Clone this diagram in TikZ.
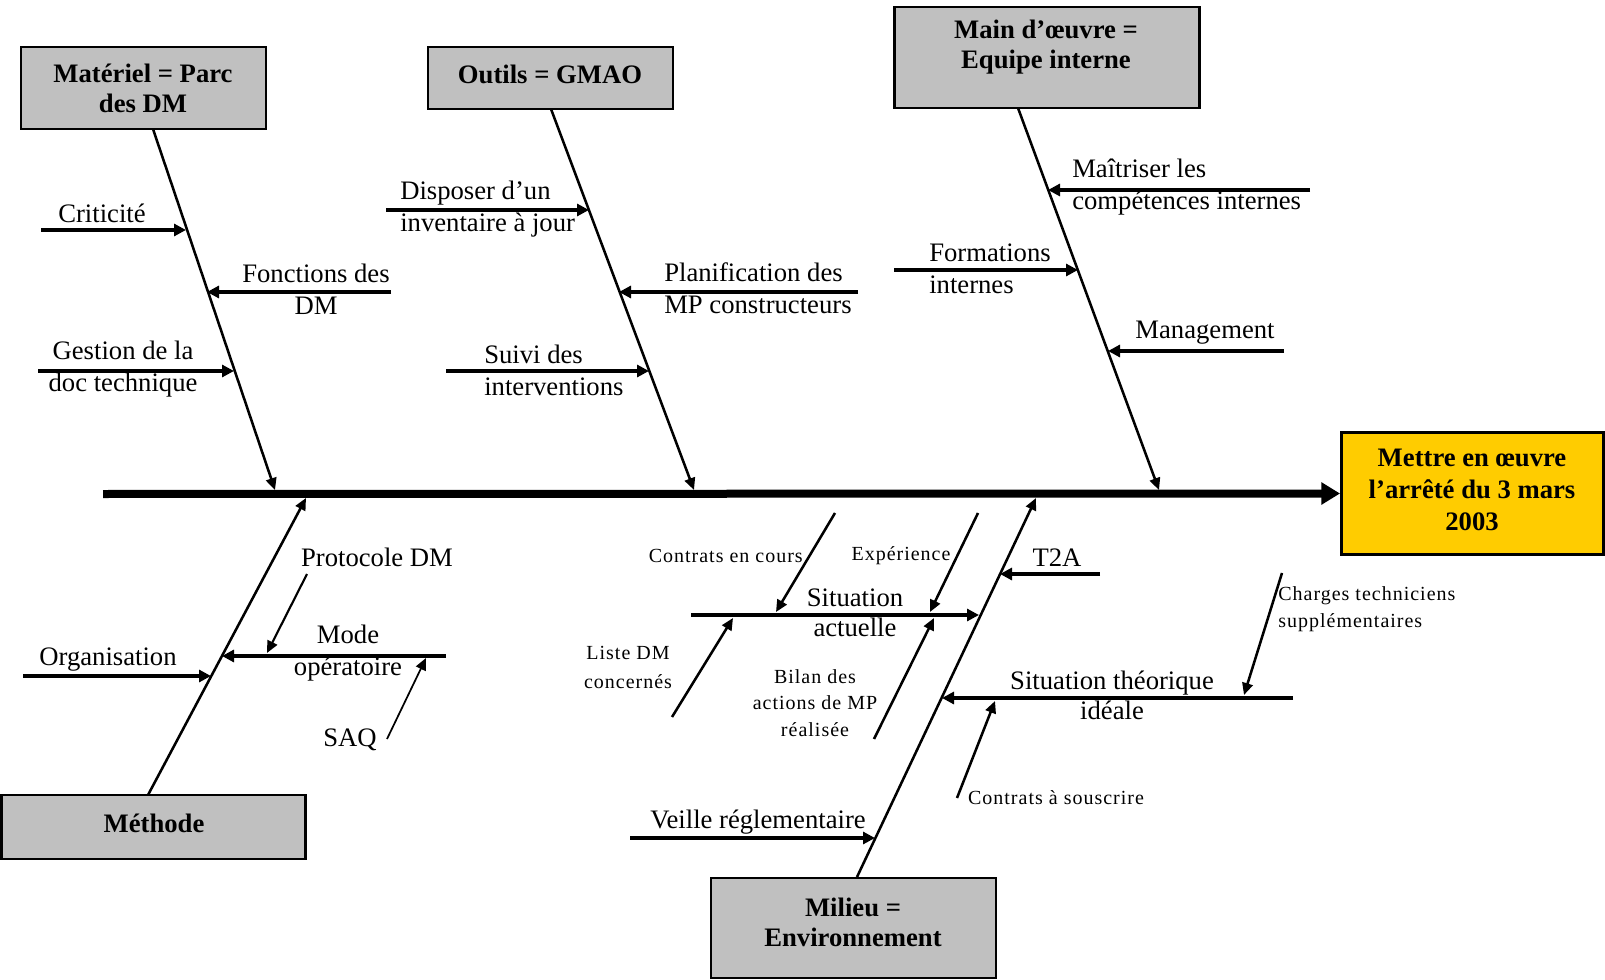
\documentclass[tikz,border=0pt]{standalone}
\usepackage{fontspec}
\setmainfont{Liberation Serif}
\newfontfamily\smallserif{Liberation Serif}[LetterSpace=5]
\usetikzlibrary{arrows.meta}
\definecolor{boxgray}{RGB}{192,192,192}
\definecolor{goal}{RGB}{255,204,0}

\begin{document}
\begin{tikzpicture}[x=0.75pt,y=-0.75pt,
  spine/.style={line width=6pt, -{Triangle[length=14pt,width=16pt]}},
  bone/.style={line width=1.9pt, -{Triangle[length=9pt,width=8pt]}},
  twig/.style={line width=3pt, -{Triangle[length=9pt,width=9pt]}},
  fine/.style={line width=1.9pt, -{Triangle[length=9pt,width=8pt]}},
  bar/.style={line width=2.6pt},
  catbox/.style={draw=black, line width=1.9pt, fill=boxgray, inner sep=0pt},
  goalbox/.style={draw=black, line width=2.2pt, fill=goal, inner sep=0pt},
  cattext/.style={font=\fontsize{20}{22.5}\selectfont\bfseries, align=center, inner sep=0pt},
  lbl/.style={font=\fontsize{20}{24}\selectfont, inner sep=0pt},
  sml/.style={font=\smallserif\fontsize{15}{20}\selectfont, inner sep=0pt},
]
\useasboundingbox (0,0) rectangle (1605,980);

% category boxes and the goal box
\node[catbox, minimum width=183.75pt, minimum height=61.5pt] (matBox) at (143.5,88) {};
\node[catbox, minimum width=183.75pt, minimum height=46.5pt] (outBox) at (550.5,78) {};
\node[catbox, minimum width=228.75pt, minimum height=75.75pt] (moBox) at (1047,57.5) {};
\node[catbox, minimum width=228pt, minimum height=48pt] (methBox) at (153.5,827) {};
\node[catbox, minimum width=213.75pt, minimum height=75pt] (milBox) at (853.5,928) {};
\node[goalbox, minimum width=196.5pt, minimum height=91.5pt] (effBox) at (1472.5,493.5) {};

\node[cattext] (matLbl) at (143,88) {Matériel = Parc\\des DM};
\node[cattext] (outLbl) at (550,74) {Outils = GMAO};
\node[cattext] (moLbl) at (1046,47.5) {Main d’œuvre =\\Equipe interne};
\node[cattext] (methLbl) at (154,823) {Méthode};
\node[cattext] (milLbl) at (853,922) {Milieu =\\Environnement};
\node[cattext, font=\fontsize{20}{24}\selectfont\bfseries] (effLbl) at (1472,490) {Mettre en œuvre\\l’arrêté du 3 mars\\2003};

% main spine
\coordinate (tail) at (103,494);
\draw[spine] (tail) -- (effBox.west);

% end points of the bones and branches
\coordinate (matFoot) at (153,129);   \coordinate (matHead) at (275,490);
\coordinate (critStart) at (41,230);  \coordinate (critEnd) at (186,230);
\coordinate (foncStart) at (391,292); \coordinate (foncEnd) at (207,292);
\coordinate (gestStart) at (38,371);  \coordinate (gestEnd) at (234,371);

\coordinate (outFoot) at (551,109);   \coordinate (outHead) at (694,490);
\coordinate (dispStart) at (386,210); \coordinate (dispEnd) at (589,210);
\coordinate (planStart) at (858,292); \coordinate (planEnd) at (619,292);
\coordinate (suivStart) at (446,371); \coordinate (suivEnd) at (649,371);

\coordinate (moFoot) at (1018,108);   \coordinate (moHead) at (1159,490);
\coordinate (maitStart) at (1310,190); \coordinate (maitEnd) at (1048,190);
\coordinate (formStart) at (894,270); \coordinate (formEnd) at (1078,270);
\coordinate (mgmtStart) at (1284,351); \coordinate (mgmtEnd) at (1108,351);

\coordinate (methFoot) at (148,795);  \coordinate (methHead) at (306,498);
\coordinate (orgStart) at (23,676);   \coordinate (orgEnd) at (211,676);
\coordinate (modeStart) at (446,656); \coordinate (modeEnd) at (222,656);
\coordinate (protStart) at (307,574); \coordinate (protEnd) at (267,653);
\coordinate (saqStart) at (387,739);  \coordinate (saqEnd) at (426,658);

\coordinate (milFoot) at (857,877);   \coordinate (milHead) at (1036,498);
\coordinate (veilStart) at (630,838); \coordinate (veilEnd) at (875,838);
\coordinate (actStart) at (691,615);  \coordinate (actEnd) at (979,615);
\coordinate (ccStart) at (835,513);   \coordinate (ccEnd) at (776,612);
\coordinate (expStart) at (978,513);  \coordinate (expEnd) at (930,612);
\coordinate (lstStart) at (672,717);  \coordinate (lstEnd) at (733,618);
\coordinate (bilStart) at (874,739);  \coordinate (bilEnd) at (934,618);
\coordinate (t2aStart) at (1100,574); \coordinate (t2aEnd) at (1000,574);
\coordinate (theoStart) at (1293,698); \coordinate (theoEnd) at (942,698);
\coordinate (chgStart) at (1282,573); \coordinate (chgEnd) at (1244,695);
\coordinate (souStart) at (957,798);  \coordinate (souEnd) at (995,701);

% Matériel
\draw[bone] (matFoot) -- (matHead);
\draw[twig] (critStart) -- (critEnd);
\draw[twig] (foncStart) -- (foncEnd);
\draw[twig] (gestStart) -- (gestEnd);

% Outils
\draw[bone] (outFoot) -- (outHead);
\draw[twig, line width=2.4pt] (dispStart) -- (dispEnd);
\draw[twig] (planStart) -- (planEnd);
\draw[twig] (suivStart) -- (suivEnd);

% Main d'oeuvre
\draw[bone] (moFoot) -- (moHead);
\draw[twig] (maitStart) -- (maitEnd);
\draw[twig] (formStart) -- (formEnd);
\draw[twig] (mgmtStart) -- (mgmtEnd);

% Méthode
\draw[bone] (methFoot) -- (methHead);
\draw[twig, line width=2.6pt] (orgStart) -- (orgEnd);
\draw[twig, line width=2.4pt] (modeStart) -- (modeEnd);
\draw[fine, line width=1.6pt] (protStart) -- (protEnd);
\draw[fine, line width=1.3pt] (saqStart) -- (saqEnd);

% Milieu
\draw[bone] (milFoot) -- (milHead);
\draw[twig, line width=2.4pt] (veilStart) -- (veilEnd);
\draw[twig] (actStart) -- (actEnd);
\draw[fine] (ccStart) -- (ccEnd);
\draw[fine] (expStart) -- (expEnd);
\draw[fine] (lstStart) -- (lstEnd);
\draw[fine] (bilStart) -- (bilEnd);
\draw[twig, line width=2.4pt] (t2aStart) -- (t2aEnd);
\draw[twig, line width=2.4pt] (theoStart) -- (theoEnd);
\draw[fine] (chgStart) -- (chgEnd);
\draw[fine] (souStart) -- (souEnd);

% labels
\node[lbl] (critLbl) at (102,213) {Criticité};
\node[lbl, align=center] (foncLbl) at (316,289) {Fonctions des\\DM};
\node[lbl, align=center] (gestLbl) at (123,369.5) {Gestion de la\\doc technique};
\node[lbl, align=left, anchor=west] (dispLbl) at (400,209) {Disposer d’un\\inventaire à jour};
\node[lbl, align=left, anchor=west] (planLbl) at (664,288) {Planification des\\MP constructeurs};
\node[lbl, align=left, anchor=west] (suivLbl) at (484,370) {Suivi des\\interventions};
\node[lbl, align=left, anchor=west] (maitLbl) at (1072,187.5) {Maîtriser les\\compétences internes};
\node[lbl, align=left, anchor=west] (formLbl) at (929,268.5) {Formations\\internes};
\node[lbl] (mgmtLbl) at (1205,333) {Management};
\node[lbl] (orgLbl) at (108,660) {Organisation};
\node[lbl] (protLbl) at (377,557) {Protocole DM};
\node[lbl, align=center] (modeLbl) at (348,653.5) {Mode\\opératoire};
\node[lbl] (saqLbl) at (350,740) {SAQ};
\node[sml, anchor=east] (ccLbl) at (803,556) {Contrats en cours};
\node[sml] (expLbl) at (901,556) {Expérience};
\node[lbl, align=center, font=\fontsize{20}{22.5}\selectfont] (actLbl) at (855,613) {Situation\\actuelle};
\node[sml, align=center, font=\smallserif\fontsize{15}{22}\selectfont] (lstLbl) at (628,667.5) {Liste DM\\concernés};
\node[sml, align=center] (bilLbl) at (815,703) {Bilan des\\actions de MP\\réalisée};
\node[lbl] (t2aLbl) at (1057,558) {T2A};
\node[lbl, align=center, font=\fontsize{20}{22.5}\selectfont] (theoLbl) at (1112,695) {Situation théorique\\idéale};
\node[sml] (souLbl) at (1056,798) {Contrats à souscrire};
\node[sml, align=left, anchor=west] (chgLbl) at (1278,609.5) {Charges techniciens\\supplémentaires};
\node[lbl] (veilLbl) at (758,822) {Veille réglementaire};
\end{tikzpicture}
\end{document}
